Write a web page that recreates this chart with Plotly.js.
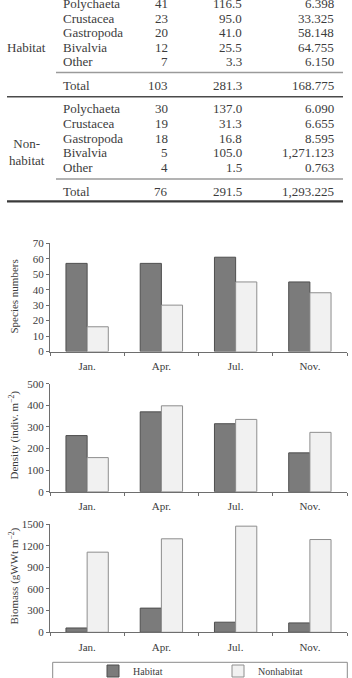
<!DOCTYPE html>
<html>
<head>
<meta charset="utf-8">
<script src="https://cdn.plot.ly/plotly-3.0.1.min.js"></script>
<style>
  html, body { margin: 0; padding: 0; background: #ffffff; overflow: hidden; }
  #chart { width: 352px; height: 692px; }
</style>
</head>
<body>
<div id="chart"></div>
<script>
// ---- Table: taxa composition in habitat and non-habitat areas ----
const taxa = ["Polychaeta", "Crustacea", "Gastropoda", "Bivalvia", "Other"];
const habSpecies = ["41", "23", "20", "12", "7"];
const habDensity = ["116.5", "95.0", "41.0", "25.5", "3.3"];
const habBiomass = ["6.398", "33.325", "58.148", "64.755", "6.150"];
const habTotal = ["103", "281.3", "168.775"];
const nonSpecies = ["30", "19", "18", "5", "4"];
const nonDensity = ["137.0", "31.3", "16.8", "105.0", "1.5"];
const nonBiomass = ["6.090", "6.655", "8.595", "1,271.123", "0.763"];
const nonTotal = ["76", "291.5", "1,293.225"];

// ---- Seasonal bar charts ----
const months = ["Jan.", "Apr.", "Jul.", "Nov."];
const speciesHabitat = [57, 57, 61, 45];
const speciesNonhabitat = [16, 30, 45, 38];
const densityHabitat = [260, 370, 315, 180];
const densityNonhabitat = [158, 398, 335, 275];
const biomassHabitat = [60, 335, 140, 130];
const biomassNonhabitat = [1110, 1295, 1470, 1285];

// The figure runs a little past the window so the legend row is allowed to
// be cut by the bottom edge without Plotly reserving a margin for it.
const W = 352, H = 692;
const px = x => x / W;
const py = y => 1 - y / H;

const serif = "Liberation Serif, Times New Roman, serif";
const textCol = "#3c3c3c";
const axisCol = "#6e6e6e";
const habFill = "#7b7b7b", habLine = "#4e4e4e";
const nonFill = "#f1f1f1", nonLine = "#8e8e8e";

// table annotations
const annotations = [];
const shapes = [];
function cell(text, x, y, anchor) {
  annotations.push({
    xref: "paper", yref: "paper", x: px(x), y: py(y),
    xanchor: anchor, yanchor: "middle", text: text, showarrow: false,
    font: {family: serif, size: 13, color: textCol}
  });
}
function block(rowsY, totalY, species, density, biomass, totals) {
  taxa.forEach((t, i) => {
    cell(t, 61, rowsY[i], "left");
    cell(species[i], 170, rowsY[i], "right");
    cell(density[i], 244, rowsY[i], "right");
    cell(biomass[i], 336, rowsY[i], "right");
  });
  cell("Total", 61, totalY, "left");
  cell(totals[0], 170, totalY, "right");
  cell(totals[1], 244, totalY, "right");
  cell(totals[2], 336, totalY, "right");
}
block([3.5, 18, 32.5, 47, 61.5], 85.5, habSpecies, habDensity, habBiomass, habTotal);
block([108.7, 123.3, 138, 152.7, 167.3], 191, nonSpecies, nonDensity, nonBiomass, nonTotal);
cell("Habitat", 26, 47, "center");
annotations.push({
  xref: "paper", yref: "paper", x: px(27), y: py(152), xanchor: "center", yanchor: "middle",
  text: "Non-<br>habitat", showarrow: false, align: "center",
  font: {family: serif, size: 13, color: textCol}
});

function hline(y, x0, x1, color, w) {
  shapes.push({type: "line", xref: "paper", yref: "paper",
    x0: px(x0), x1: px(x1), y0: py(y), y1: py(y), line: {color: color, width: w}});
}
hline(72.5, 56, 343, "#9a9a9a", 1.3);
hline(96.8, 7, 343, "#4a4a4a", 1.5);
hline(179, 56, 343, "#9a9a9a", 1.3);
hline(201.3, 7, 343, "#3a3a3a", 2.2);

// legend frame
shapes.push({type: "rect", xref: "paper", yref: "paper",
  x0: px(52.7), x1: px(347.3), y0: py(662.3), y1: py(691),
  line: {color: "#8a8a8a", width: 1}, fillcolor: "rgba(0,0,0,0)"});

// y-axis titles
function ytitle(text, y) {
  annotations.push({xref: "paper", yref: "paper", x: px(13.5), y: py(y),
    xanchor: "center", yanchor: "middle", textangle: -90, showarrow: false,
    text: text, font: {family: serif, size: 11, color: textCol}});
}
ytitle("Species numbers", 297);
ytitle("Density (indiv. m<sup>\u22122</sup>)", 435);
ytitle("Biomass (gWWt m<sup>\u22122</sup>)", 576);

function bars(y, name, color, line, xa, ya, legend) {
  return {type: "bar", x: months, y: y, name: name, xaxis: xa, yaxis: ya,
    marker: {color: color, line: {color: line, width: 1}},
    legendgroup: name, showlegend: legend, hoverinfo: "x+y"};
}
const data = [
  bars(speciesHabitat, "Habitat", habFill, habLine, "x", "y", true),
  bars(speciesNonhabitat, "Nonhabitat", nonFill, nonLine, "x", "y", true),
  bars(densityHabitat, "Habitat", habFill, habLine, "x2", "y2", false),
  bars(densityNonhabitat, "Nonhabitat", nonFill, nonLine, "x2", "y2", false),
  bars(biomassHabitat, "Habitat", habFill, habLine, "x3", "y3", false),
  bars(biomassNonhabitat, "Nonhabitat", nonFill, nonLine, "x3", "y3", false)
];

const tickFont = {family: serif, size: 11, color: textCol};
function xaxis(anchor) {
  return {domain: [px(50), px(347)], anchor: anchor, type: "category",
    showline: true, linecolor: axisCol, linewidth: 1,
    ticks: "outside", tickson: "boundaries", ticklen: 3, tickcolor: axisCol,
    ticklabelstandoff: 4,
    showgrid: false, zeroline: false, tickfont: tickFont, fixedrange: true};
}
function yaxis(anchor, y0, y1, range, dtick) {
  return {domain: [py(y0), py(y1)], anchor: anchor, range: range, dtick: dtick,
    showline: true, linecolor: axisCol, linewidth: 1,
    ticks: "outside", ticklen: 3, tickcolor: axisCol,
    showgrid: false, zeroline: false, tickfont: tickFont, fixedrange: true};
}

const layout = {
  width: W, height: H,
  margin: {l: 0, r: 0, t: 0, b: 0},
  paper_bgcolor: "#ffffff", plot_bgcolor: "#ffffff",
  barmode: "group", bargap: 0.43, bargroupgap: 0,
  xaxis: xaxis("y"), yaxis: yaxis("x", 351.5, 243.3, [0, 70], 10),
  xaxis2: xaxis("y2"), yaxis2: yaxis("x2", 491.7, 383.8, [0, 500], 100),
  xaxis3: xaxis("y3"), yaxis3: yaxis("x3", 632.3, 524, [0, 1500], 300),
  showlegend: true,
  legend: {orientation: "h", x: px(93), y: py(656.5), xanchor: "left", yanchor: "top",
    entrywidth: 80, entrywidthmode: "pixels",
    font: {family: serif, size: 10, color: textCol}, bgcolor: "rgba(0,0,0,0)",
    traceorder: "normal"},
  annotations: annotations,
  shapes: shapes
};

Plotly.newPlot("chart", data, layout, {staticPlot: true, displayModeBar: false});
</script>
</body>
</html>
